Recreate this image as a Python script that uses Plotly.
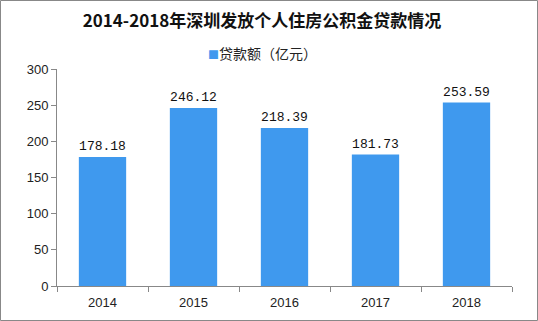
import plotly.graph_objects as go

years = ["2014", "2015", "2016", "2017", "2018"]
loans = [178.18, 246.12, 218.39, 181.73, 253.59]
series_name = "贷款额（亿元）"
title_text = "2014-2018年深圳发放个人住房公积金贷款情况"

W, H = 538, 321
ml, mr, mt, mb = 57, 26, 69, 35
pw, ph = W - ml - mr, H - mt - mb
bar_color = "#3f99ee"

fig = go.Figure()
fig.add_trace(go.Bar(
    x=years, y=loans, name=series_name,
    marker=dict(color=bar_color, line=dict(width=0)),
    text=[f"{v:.2f}" for v in loans], textposition="outside",
    constraintext="none",
    textfont=dict(family="Liberation Mono, DejaVu Sans Mono, monospace", size=13, color="#111111"),
    cliponaxis=False,
    showlegend=False,
))

def px_x(p):
    return (p - ml) / pw

def px_y(p):
    return 1 - (p - mt) / ph

fig.update_layout(
    width=W, height=H,
    margin=dict(l=ml, r=mr, t=mt, b=mb),
    paper_bgcolor="white", plot_bgcolor="white",
    bargap=0.48,
    showlegend=False,
    title=dict(text=f"<b>{title_text}</b>", x=262 / W, xanchor="center", y=1 - 21 / H, yanchor="middle",
               font=dict(family="Noto Sans CJK SC", size=17, color="#111111")),
    font=dict(family="Noto Sans CJK SC", size=12, color="#222222"),
    xaxis=dict(type="category", showline=True, linecolor="#888888", linewidth=1,
               ticks="outside", tickson="boundaries", ticklen=5, tickcolor="#888888",
               ticklabelstandoff=4,
               tickfont=dict(family="Liberation Sans, Arial", size=13, color="#222222"),
               showgrid=False, zeroline=False),
    yaxis=dict(range=[0, 300], dtick=50, showline=True, linecolor="#888888", linewidth=1,
               ticks="outside", ticklen=5, tickcolor="#888888",
               tickfont=dict(family="Liberation Sans, Arial", size=13, color="#222222"),
               showgrid=False, zeroline=False),
    annotations=[dict(
        xref="paper", yref="paper", x=px_x(262), y=px_y(53), xanchor="center", yanchor="middle",
        showarrow=False,
        text=f"<span style='color:{bar_color};font-size:11px'>■</span>{series_name}",
        font=dict(family="Noto Sans CJK SC", size=14, color="#222222"),
    )],
    shapes=[dict(type="rect", xref="paper", yref="paper",
                 x0=px_x(0.5), x1=px_x(W - 0.5), y0=px_y(0.5), y1=px_y(H - 0.5),
                 line=dict(color="#888888", width=1), layer="above")],
)

fig.write_html("out.html")
